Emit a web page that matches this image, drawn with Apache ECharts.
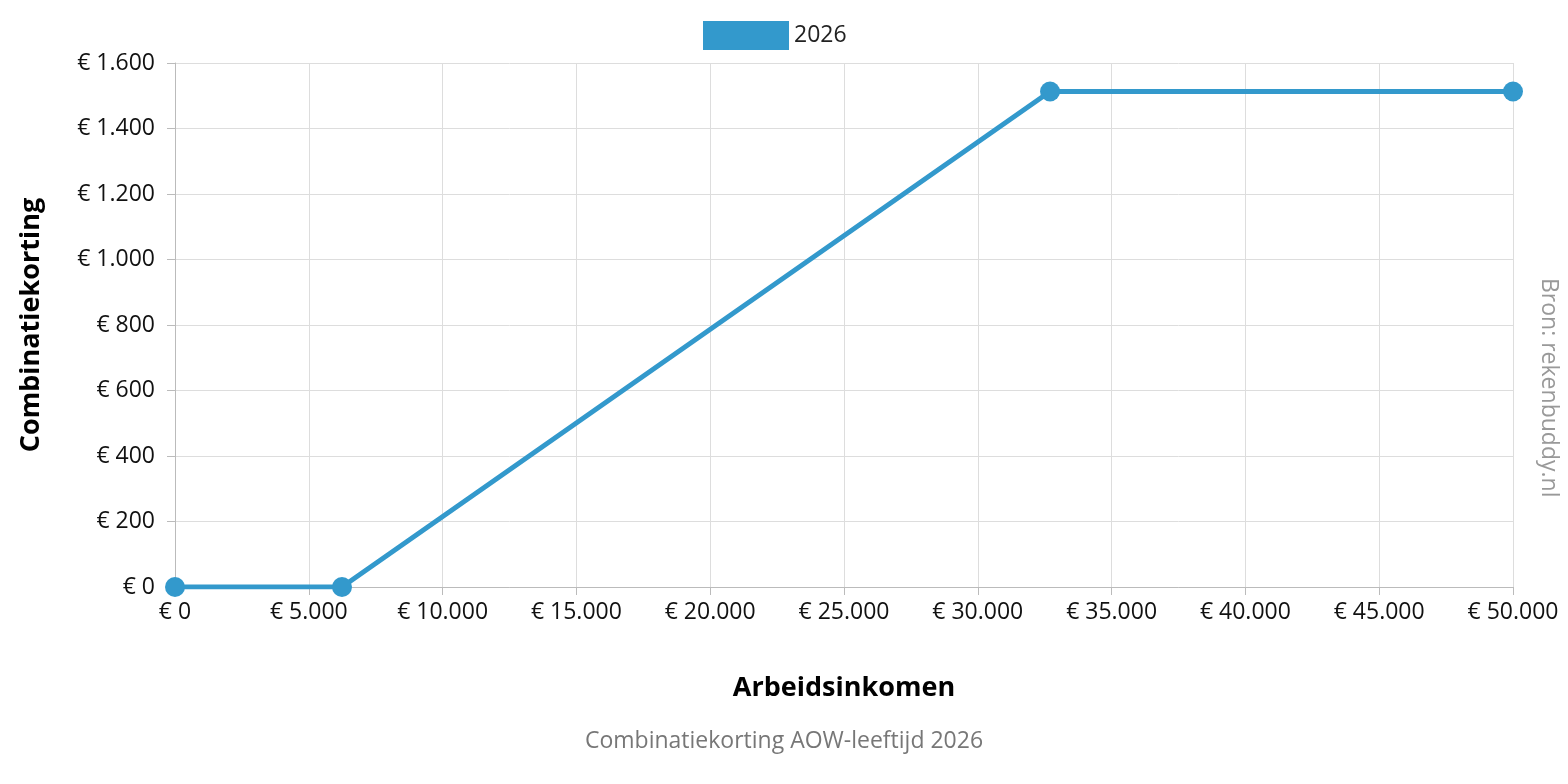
<!DOCTYPE html>
<html><head><meta charset="utf-8">
<script src="https://cdn.jsdelivr.net/npm/echarts@6/dist/echarts.min.js"></script>
<style>html,body{margin:0;padding:0;background:#fff}#c{width:1568px;height:784px}</style>
</head><body><div id="c"></div>
<script>
const seriesName = '2026';
const incomes = [0, 6240, 32700, 50000];
const korting = [0, 0, 1513, 1513];
const fmt = v => '€ ' + Math.round(v).toString().replace(/\B(?=(\d{3})+(?!\d))/g, '.');
const chart = echarts.init(document.getElementById('c'));
const F = '"Open Sans", "Noto Sans", sans-serif';
chart.setOption({
  animation: false,
  textStyle: {fontFamily: F},
  legend: {top: 16, left: 698, itemWidth: 86, itemHeight: 29, icon: 'rect',
    textStyle: {fontSize: 23, color: '#222', fontFamily: F}, data: [seriesName]},
  grid: {left: 175, right: 55, top: 63, bottom: 197},
  xAxis: {type: 'value', min: 0, max: 50000, interval: 5000,
    name: 'Arbeidsinkomen', nameLocation: 'middle', nameGap: 88,
    nameTextStyle: {fontSize: 27, fontWeight: 'bold', color: '#000', fontFamily: F},
    axisLine: {lineStyle: {color: '#bbb'}}, axisTick: {show: true, length: 8, lineStyle: {color: '#bbb'}},
    axisLabel: {formatter: fmt, fontSize: 23, color: '#111', margin: 14, fontFamily: F},
    splitLine: {show: true, lineStyle: {color: '#ddd'}}},
  yAxis: {type: 'value', min: 0, max: 1600, interval: 200,
    name: 'Combinatiekorting', nameLocation: 'middle', nameGap: 130,
    nameTextStyle: {fontSize: 27, fontWeight: 'bold', color: '#000', fontFamily: F},
    axisLine: {show: true, lineStyle: {color: '#bbb'}}, axisTick: {show: true, length: 8, lineStyle: {color: '#bbb'}},
    axisLabel: {formatter: fmt, fontSize: 23, color: '#111', margin: 20, fontFamily: F},
    splitLine: {show: true, lineStyle: {color: '#ddd'}}},
  graphic: [
    {type: 'text', left: 'center', top: 730, style: {text: 'Combinatiekorting AOW-leeftijd 2026', fontSize: 23, fill: '#777', fontFamily: F}},
    {type: 'text', x: 1560, y: 278, rotation: -Math.PI/2, style: {text: 'Bron: rekenbuddy.nl', fontSize: 23, fill: '#999', fontFamily: F}}
  ],
  series: [{name: seriesName, type: 'line', data: incomes.map((x, i) => [x, korting[i]]),
    color: '#3399cc', lineStyle: {width: 5}, symbol: 'circle', symbolSize: 20}]
});
</script></body></html>
